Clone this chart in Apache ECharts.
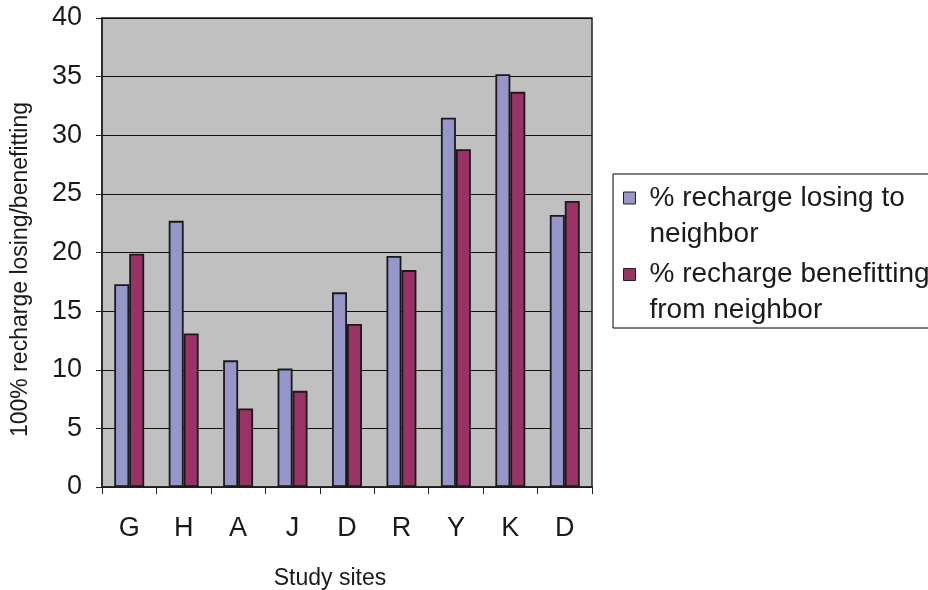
<!DOCTYPE html>
<html>
<head>
<meta charset="utf-8">
<script src="https://cdn.jsdelivr.net/npm/echarts@6/dist/echarts.min.js"></script>
<style>
  html, body { margin: 0; padding: 0; background: #fff; }
  #chart { width: 928px; height: 590px; }
</style>
</head>
<body>
<div id="chart"></div>
<script>
// study sites along the x axis
var sites = ['G', 'H', 'A', 'J', 'D', 'R', 'Y', 'K', 'D'];
// % recharge losing to neighbor
var losing = [17.3, 22.7, 10.8, 10.1, 16.6, 19.7, 31.5, 35.2, 23.2];
// % recharge benefitting from neighbor
var benefitting = [19.9, 13.1, 6.7, 8.2, 13.9, 18.5, 28.8, 33.7, 24.4];
var seriesNames = ['% recharge losing to\nneighbor', '% recharge benefitting\nfrom neighbor'];
var yTicks = { min: 0, max: 40, interval: 5 };

var font = '"Liberation Sans", Arial, sans-serif';
var chart = echarts.init(document.getElementById('chart'), null, { renderer: 'canvas' });

chart.setOption({
  animation: false,
  textStyle: { fontFamily: font, color: '#000' },
  grid: {
    left: 102, top: 18, right: 336, bottom: 103,
    outerBoundsMode: 'none',
    containLabel: false,
    show: true,
    backgroundColor: '#c0c0c0',
    borderColor: '#222',
    borderWidth: 1.5
  },
  // legend frame, the legend itself has no box
  graphic: [{
    type: 'rect',
    z: 0,
    shape: { x: 613, y: 174, width: 330, height: 154 },
    style: { fill: '#fff', stroke: '#000', lineWidth: 1 }
  }],
  legend: {
    orient: 'vertical',
    left: 623,
    top: 144,
    padding: 0,
    itemGap: -31.5,
    itemWidth: 12,
    itemHeight: 12,
    icon: 'rect',
    z: 10,
    itemStyle: { borderColor: '#222', borderWidth: 1 },
    // empty first line keeps the icon level with the first text line
    formatter: function (name) { return '\n' + name; },
    textStyle: {
      fontFamily: font,
      fontSize: 28,
      lineHeight: 36,
      color: '#1a1a1a',
      padding: [0, 0, 0, 9]
    },
    data: seriesNames
  },
  xAxis: {
    type: 'category',
    data: sites,
    name: 'Study sites',
    nameLocation: 'middle',
    nameGap: 80,
    nameTextStyle: { fontFamily: font, fontSize: 23, color: '#1a1a1a', padding: [0, 34, 0, 0] },
    axisLine: { lineStyle: { color: '#222', width: 1.5 } },
    axisTick: { show: true, length: 7, lineStyle: { color: '#222' } },
    axisLabel: { fontFamily: font, fontSize: 27, color: '#1a1a1a', margin: 28 }
  },
  yAxis: {
    type: 'value',
    min: yTicks.min,
    max: yTicks.max,
    interval: yTicks.interval,
    name: '100% recharge losing/benefitting',
    nameLocation: 'middle',
    nameGap: 70,
    nameTextStyle: { fontFamily: font, fontSize: 23, color: '#1a1a1a', padding: [0, 34, 0, 0] },
    axisLine: { show: true, lineStyle: { color: '#222', width: 1.5 } },
    axisTick: { show: true, length: 6, lineStyle: { color: '#222' } },
    axisLabel: { fontFamily: font, fontSize: 27, color: '#1a1a1a', margin: 20 },
    splitLine: { lineStyle: { color: '#111', width: 1 } }
  },
  series: [
    {
      name: seriesNames[0],
      type: 'bar',
      data: losing,
      barGap: '0%',
      barCategoryGap: '45%',
      itemStyle: { color: '#9696c9', borderColor: '#1a1a1a', borderWidth: 1.8 }
    },
    {
      name: seriesNames[1],
      type: 'bar',
      data: benefitting,
      barGap: '0%',
      barCategoryGap: '45%',
      itemStyle: { color: '#993366', borderColor: '#1a1a1a', borderWidth: 1.8 }
    }
  ]
});
</script>
</body>
</html>
